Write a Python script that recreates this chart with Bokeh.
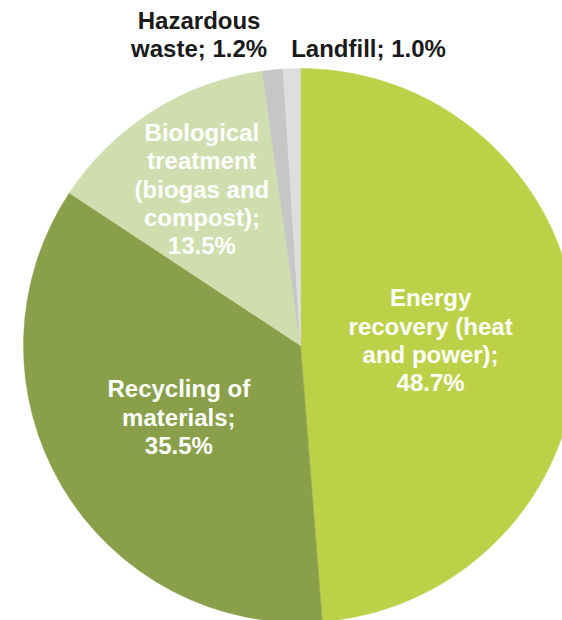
import numpy as np
from bokeh.plotting import figure
from bokeh.models import ColumnDataSource, Range1d
from bokeh.core.properties import value
from bokeh.embed import file_html
from bokeh.resources import INLINE

# ---- data ----
categories = ["Energy recovery (heat and power)", "Recycling of materials",
              "Biological treatment (biogas and compost)", "Hazardous waste", "Landfill"]
shares = [48.7, 35.5, 13.5, 1.2, 1.0]
label_texts = ["Energy\nrecovery (heat\nand power);\n48.7%",
               "Recycling of\nmaterials;\n35.5%",
               "Biological\ntreatment\n(biogas and\ncompost);\n13.5%",
               "Hazardous\nwaste; 1.2%",
               "Landfill; 1.0%"]

# ---- styles / layout ----
colors = ["#BCD148", "#8A9F4A", "#D0DDAE", "#C6C6C6", "#DEDEDE"]
label_colors = ["white", "white", "white", "#1a1a1a", "#1a1a1a"]
label_radius = [0.47, 0.51, 0.667, 1.18, 1.10]      # fraction of pie radius
label_angle_nudge = [0.0, 0.0, 0.0, 12.3, -14.7]    # degrees

W, H = 562, 620
cx, cy, R = 300.0, 275.0, 277.0

vals = np.array(shares, dtype=float)
frac = vals / vals.sum()
cum = np.concatenate([[0.0], np.cumsum(frac)])
start = np.deg2rad(90.0 - cum[:-1] * 360.0)
end = np.deg2rad(90.0 - cum[1:] * 360.0)
mid = (start + end) / 2.0

src = ColumnDataSource(dict(start=start, end=end, color=colors, cat=categories))

p = figure(width=W, height=H, output_backend="svg", toolbar_location=None,
           x_range=Range1d(0, W), y_range=Range1d(0, H),
           min_border=0, background_fill_color="white", border_fill_color="white")
p.axis.visible = False
p.grid.visible = False
p.outline_line_color = None

p.wedge(x=cx, y=cy, radius=R, start_angle="start", end_angle="end",
        direction="clock", fill_color="color", line_color="color", line_width=0.5,
        source=src)

ang = mid + np.deg2rad(label_angle_nudge)
lx = cx + np.array(label_radius) * R * np.cos(ang)
ly = cy + np.array(label_radius) * R * np.sin(ang)
lsrc = ColumnDataSource(dict(x=lx, y=ly, text=label_texts, color=label_colors))
p.text(x="x", y="y", text="text", source=lsrc, text_color="color",
       text_font=value("Liberation Sans"), text_font_style="bold",
       text_font_size="24px", text_align="center", text_baseline="middle",
       text_line_height=1.05)

open("out.html", "w").write(file_html(p, INLINE))
